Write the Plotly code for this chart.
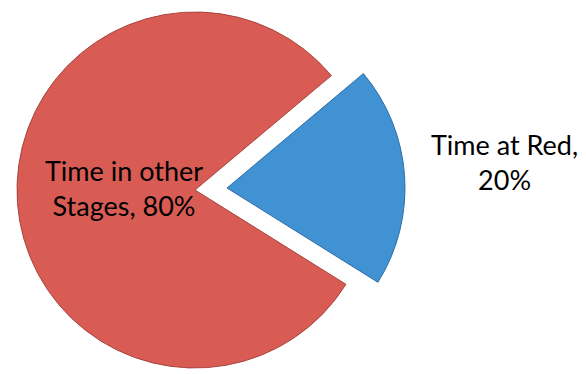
import plotly.graph_objects as go

# Data
labels = ["Time at Red", "Time in other Stages"]
values = [20, 80]
display_labels = ["Time at Red,", "Time in other<br>Stages,"]
colors = ["#4092D3", "#D85C54"]
line_colors = ["#2F6FA8", "#A9443F"]

OFF = 8                              # default page body margin (px)
W, H = 586 - OFF, 374 - OFF          # figure size so it fills the window
cx, cy, r = 195 - OFF, 190 - OFF, 178    # main pie centre / radius (px, figure coords)
pull_dx, pull_dy = 32, -2            # offset of the exploded slice (px)

def domain(dx=0, dy=0):
    x0 = (cx + dx - r) / W
    x1 = (cx + dx + r) / W
    y0 = (H - (cy + dy) - r) / H
    y1 = (H - (cy + dy) + r) / H
    return dict(x=[max(0, x0), min(1, x1)], y=[max(0, y0), min(1, y1)])

total = sum(values)
pcts = [round(v / total * 100) for v in values]

fig = go.Figure()
# red (non-exploded) slice
fig.add_trace(go.Pie(
    labels=labels, values=values, sort=False, direction="clockwise", rotation=50,
    domain=domain(),
    marker=dict(colors=["rgba(0,0,0,0)", colors[1]],
                line=dict(color=["rgba(0,0,0,0)", line_colors[1]], width=[0, 1])),
    textinfo="none", hoverinfo="label+percent", showlegend=False,
))
# blue (exploded) slice
fig.add_trace(go.Pie(
    labels=labels, values=values, sort=False, direction="clockwise", rotation=50,
    domain=domain(pull_dx, pull_dy),
    marker=dict(colors=[colors[0], "rgba(0,0,0,0)"],
                line=dict(color=[line_colors[0], "rgba(0,0,0,0)"], width=[1, 0])),
    textinfo="none", hoverinfo="label+percent", showlegend=False,
))

label_pos = [(504 - OFF, 162 - OFF), (124 - OFF, 188 - OFF)]
for i in range(len(labels)):
    px, py = label_pos[i]
    fig.add_annotation(
        x=px / W, y=(H - py) / H, xref="paper", yref="paper",
        xanchor="center", yanchor="middle",
        text=f"{display_labels[i]} {pcts[i]}%" if i == 1 else f"{display_labels[i]}<br>{pcts[i]}%",
        showarrow=False, align="center",
        font=dict(family="Lato", size=27, color="#000000"),
    )

fig.update_layout(
    width=W, height=H, margin=dict(l=0, r=0, t=0, b=0),
    paper_bgcolor="white", plot_bgcolor="white",
)
fig.write_html("out.html")
